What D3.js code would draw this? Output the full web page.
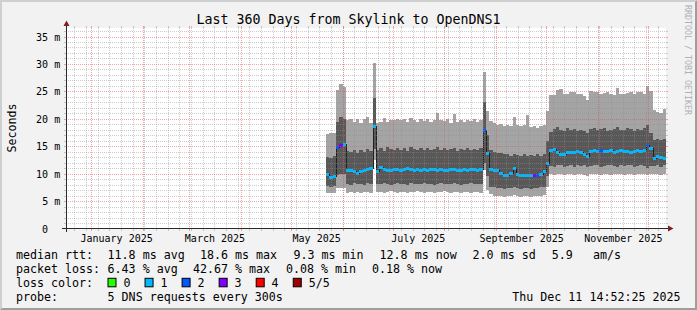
<!DOCTYPE html>
<html>
<head>
<meta charset="utf-8">
<script src="https://cdn.jsdelivr.net/npm/d3@7"></script>
<style>
  body { margin: 0; background: #f2f2f2; }
  svg { display: block; font-family: 'DejaVu Sans Mono', monospace; }
</style>
</head>
<body>
<svg id="chart" width="697" height="310"></svg>
<script>
// time range of the graph
let endTime = new Date(2025, 11, 11, 14, 52, 25);
let startTime = d3.timeDay.offset(endTime, -360);
let firstDay = new Date(2025, 4, 21, 14, 52, 25);
let stepDays = 2;

// ping values in ms, one value per 2 days
let pingMax = [
  17.3, 17.5, 17.4,
  25.2, 26.3, 25.8,
  19.8, 19.9, 19.5, 20.0, 19.2, 20.0, 20.3, 19.3,
  30.1,
  19.2, 19.4, 20.1, 19.5, 19.8, 19.7, 20.0, 19.7, 19.9, 19.5, 20.2, 19.8, 19.4, 19.9, 19.6, 20.0,
  19.5, 19.8, 21.0, 19.7, 19.6, 20.0, 19.3, 20.9, 19.5, 19.7, 19.4, 19.8, 19.6, 19.9, 19.5, 19.8,
  28.6, 21.5,
  19.6, 19.2, 18.8, 19.0, 18.7, 18.9, 18.6, 20.4, 18.8, 18.7, 18.9, 20.7, 18.5, 18.6, 18.4, 18.7, 18.8,
  21.5,
  24.3, 24.4, 25.2, 25.5, 24.6, 24.5, 24.8, 24.9, 24.5, 24.6, 24.2, 23.4, 25.0, 24.9, 24.8,
  24.5, 24.7, 24.9, 24.6, 24.3, 25.6, 24.6, 24.5, 24.7, 24.9, 24.6, 24.8, 24.9, 24.6,
  25.9, 25.0,
  21.6, 21.3, 21.0, 21.8
];
let pingQ4 = [
  13.0, 12.8, 13.2,
  19.5, 20.3, 20.0,
  14.2, 13.9, 14.4, 13.8, 14.3, 14.0, 14.5, 14.2,
  23.8,
  14.4, 14.6, 14.2, 14.8, 14.5, 14.3, 14.7, 14.4, 14.6, 14.2, 14.9, 14.5, 14.3, 14.6, 14.4, 14.7,
  14.3, 14.5, 14.8, 14.4, 14.6, 14.3, 14.5, 14.7, 14.2, 14.5, 14.4, 14.6, 14.3, 14.5, 14.4, 14.6,
  23.0, 17.0,
  14.3, 14.0, 13.7, 13.8, 13.5, 13.6, 13.3, 13.5, 13.4, 13.2, 13.5, 13.3, 13.4, 13.2, 13.5, 13.3, 13.6,
  16.0,
  17.6, 18.2, 18.5, 18.0, 17.8, 18.3, 17.9, 18.1, 17.7, 18.0, 17.8, 17.5, 18.2, 18.4, 17.9,
  18.1, 18.3, 17.8, 18.0, 18.2, 18.5, 18.0, 17.9, 18.3, 18.1, 17.8, 18.2, 18.0, 18.3,
  18.8, 17.5,
  16.2, 16.4, 16.1, 16.3
];
let pingMedian = [
  9.9, 9.3, 9.6,
  14.9, 15.3, 15.4,
  10.7, 10.6, 10.5, 10.2, 10.4, 10.7, 10.9, 11.0,
  18.6,
  10.5, 11.2, 10.9, 10.7, 10.6, 10.9, 10.8, 10.6, 10.9, 11.0, 10.8, 10.7, 10.9, 10.7, 10.8, 10.6,
  10.8, 10.9, 10.7, 10.8, 10.6, 10.7, 10.8, 10.9, 10.7, 10.6, 10.8, 10.7, 10.9, 10.8, 10.7, 10.8,
  17.9, 13.7,
  10.8, 10.7, 10.6, 10.1, 9.8, 9.8, 10.2, 11.0, 9.9, 9.8, 9.7, 9.8, 9.7, 9.8, 9.8, 9.9, 10.4,
  12.0,
  14.4, 14.5, 14.0, 13.5, 13.5, 14.0, 13.9, 14.0, 14.1, 13.9, 13.6, 13.3, 14.2, 14.3, 14.2,
  14.4, 14.1, 14.2, 14.3, 14.0, 14.2, 14.3, 14.1, 14.2, 14.0, 14.1, 14.3, 14.2, 14.4,
  15.2, 14.6,
  12.9, 13.2, 13.0, 12.9
];
let pingQ2 = [
  7.7, 7.6, 7.7,
  9.8, 9.9, 10.0,
  8.2, 8.0, 8.3, 8.1, 8.2, 8.0, 8.3, 8.1,
  14.5,
  8.2, 8.1, 8.3, 8.2, 8.0, 8.2, 8.3, 8.1, 8.2, 8.0, 8.3, 8.2, 8.1, 8.2, 8.3, 8.1,
  8.2, 8.0, 8.2, 8.3, 8.1, 8.2, 8.1, 8.3, 8.2, 8.0, 8.2, 8.1, 8.3, 8.2, 8.1, 8.2,
  12.0, 9.5,
  7.6, 7.5, 7.3, 7.4, 7.2, 7.4, 7.3, 7.5, 7.3, 7.2, 7.4, 7.3, 7.2, 7.4, 7.3, 7.5, 7.6,
  9.5,
  11.4, 11.3, 11.5, 11.6, 11.3, 11.4, 11.5, 11.3, 11.6, 11.4, 11.5, 11.3, 11.4, 11.6, 11.5,
  11.3, 11.4, 11.5, 11.6, 11.4, 11.3, 11.5, 11.4, 11.6, 11.5, 11.3, 11.4, 11.5, 11.4,
  11.0, 11.4,
  11.4, 11.5, 11.3, 11.5
];
let pingMin = [
  6.4, 6.4, 6.4,
  7.3, 7.3, 7.4,
  6.5, 6.6, 6.4, 6.6, 6.5, 6.6, 6.7, 6.5,
  12.5,
  6.6, 6.7, 6.5, 6.6, 6.8, 6.6, 6.5, 6.7, 6.6, 6.5, 6.7, 6.6, 6.8, 6.6, 6.5, 6.7,
  6.6, 6.5, 6.7, 6.6, 6.8, 6.6, 6.5, 6.7, 6.6, 6.5, 6.7, 6.6, 6.5, 6.7, 6.6, 6.5,
  10.7, 7.0,
  6.2, 6.0, 5.9, 6.0, 5.8, 6.0, 5.9, 6.1, 5.9, 5.8, 6.0, 5.9, 5.8, 6.0, 5.9, 6.0, 6.1,
  7.5,
  9.9, 9.8, 10.0, 9.9, 9.7, 9.9, 10.0, 9.8, 9.9, 10.0, 9.8, 9.6, 9.9, 10.0, 9.9,
  9.8, 10.0, 9.9, 9.8, 9.9, 10.0, 9.9, 9.8, 9.9, 10.0, 9.8, 9.9, 10.0, 9.9,
  9.7, 9.9,
  9.9, 10.0, 9.8, 9.9
];
// lost pings per point (0..5)
let lossCount = [
  1, 1, 1, 2, 3, 1, 1, 1, 1, 1, 1, 1, 1, 1, 1, 1, 1, 1, 1, 1,
  1, 1, 1, 1, 1, 1, 1, 1, 1, 1, 1, 1, 1, 1, 1, 1, 1, 1, 1, 1,
  1, 1, 1, 1, 1, 1, 1, 2, 1, 1, 1, 1, 1, 1, 1, 1, 1, 1, 1, 1,
  1, 1, 3, 2, 1, 1, 1, 1, 1, 1, 1, 1, 1, 1, 1, 1, 1, 1, 1, 1,
  1, 1, 2, 1, 1, 1, 1, 1, 1, 1, 1, 1, 1, 1, 1, 1, 2, 1, 1, 1,
  1, 1
];

let yTicks = [0, 5, 10, 15, 20, 25, 30, 35];
let lossLabels = ['0', '1', '2', '3', '4', '5/5'];
let lossColors = ['#26ff00', '#00b8ff', '#0059ff', '#7e00ff', '#ff0000', '#a10000'];
let rttStats = ['11.8 ms avg', '18.6 ms max', '9.3 ms min', '12.8 ms now', '2.0 ms sd'];
let rttAms = ['5.9', 'am/s'];
let lossStats = ['6.43 % avg', '42.67 % max', '0.08 % min', '0.18 % now'];
let titleText = 'Last 360 Days from Skylink to OpenDNS1';
let probeText = '5 DNS requests every 300s';

let svg = d3.select('#chart');

// background + 3d shade
svg.append('rect').attr('width', 697).attr('height', 310).attr('fill', '#f2f2f2');
svg.append('path').attr('d', 'M0,0H697L695,2H2V308L0,310Z').attr('fill', '#cfcfcf');
svg.append('path').attr('d', 'M697,0V310H0L2,308H695V2Z').attr('fill', '#9e9e9e');

let x = d3.scaleTime().domain([startTime, endTime]).range([66, 666]);
let y = d3.scaleLinear().domain([0, 200 / (192 / 35)]).range([228.5, 28.5]);

// canvas
svg.append('rect').attr('x', 66).attr('y', 28).attr('width', 600).attr('height', 200).attr('fill', '#ffffff');

let pts = pingMedian.map(function(m, i) {
  return {
    t: d3.timeDay.offset(firstDay, stepDays * i),
    min: pingMin[i], q2: pingQ2[i], med: m, q4: pingQ4[i], max: pingMax[i],
    loss: lossCount[i]
  };
});
pts.forEach((p, i) => { p.next = i + 1 < pts.length ? pts[i + 1].t : endTime; });
let ptsEnd = pts.concat([Object.assign({}, pts[pts.length - 1], {t: endTime})]);

let px = function(t) { return Math.round(x(t)); };
let py = function(v) { return Math.round(y(v)); };

// smoke: outer pings light, inner pings dark
let g = svg.append('g').attr('shape-rendering', 'crispEdges');
g.append('path').datum(ptsEnd)
  .attr('d', d3.area().curve(d3.curveStepAfter)
    .x(d => px(d.t)).y0(d => py(d.min)).y1(d => py(d.max)))
  .attr('fill', '#a4a4a4');
g.append('path').datum(ptsEnd)
  .attr('d', d3.area().curve(d3.curveStepAfter)
    .x(d => px(d.t)).y0(d => py(d.q2)).y1(d => py(d.q4)))
  .attr('fill', '#585858');

// median: thin dark step line, thick coloured piece per point by loss
let medLine = d3.line().curve(d3.curveStepAfter)
  .x(d => px(d.t)).y(d => py(d.med) + 0.5);
g.append('path').datum(ptsEnd).attr('d', medLine)
  .attr('fill', 'none').attr('stroke', '#202020').attr('stroke-width', 1);

g.selectAll('.med').data(pts).enter().append('line')
  .attr('class', 'med')
  .attr('x1', d => px(d.t)).attr('x2', d => px(d.next))
  .attr('y1', d => py(d.med) + 0.5).attr('y2', d => py(d.med) + 0.5)
  .attr('stroke', d => lossColors[d.loss]).attr('stroke-width', 3);

// grid (drawn over the graph like rrdtool)
let minorCol = 'rgba(143,143,143,0.45)';
let majorCol = 'rgba(222,79,79,0.5)';
let grid = svg.append('g').attr('shape-rendering', 'crispEdges');

let hLine = function(v, col) {
  let yy = py(v) + 0.5;
  grid.append('line').attr('x1', 66).attr('x2', 666).attr('y1', yy).attr('y2', yy)
    .attr('stroke', col).attr('stroke-dasharray', '1,1');
  grid.append('line').attr('x1', 64).attr('x2', 66).attr('y1', yy).attr('y2', yy).attr('stroke', col);
  grid.append('line').attr('x1', 666).attr('x2', 668).attr('y1', yy).attr('y2', yy).attr('stroke', col);
};
let vLine = function(t, col) {
  let xx = Math.floor(x(t)) + 0.5;
  grid.append('line').attr('x1', xx).attr('x2', xx).attr('y1', 28).attr('y2', 228)
    .attr('stroke', col).attr('stroke-dasharray', '1,1');
  grid.append('line').attr('x1', xx).attr('x2', xx).attr('y1', 228).attr('y2', 231).attr('stroke', col);
  grid.append('line').attr('x1', xx).attr('x2', xx).attr('y1', 26).attr('y2', 28).attr('stroke', col);
};

d3.range(1, 37).filter(v => v % 5 !== 0).forEach(v => hLine(v, minorCol));
d3.timeSunday.range(startTime, endTime).forEach(t => vLine(t, minorCol));
yTicks.filter(v => v > 0).forEach(v => hLine(v, majorCol));
let months = d3.timeMonth.range(startTime, endTime);
months.forEach(t => vLine(t, majorCol));

// axes + arrows
svg.append('line').attr('x1', 62).attr('x2', 670).attr('y1', 228.5).attr('y2', 228.5)
  .attr('stroke', '#2a2a2a');
svg.append('line').attr('x1', 66.5).attr('x2', 66.5).attr('y1', 232).attr('y2', 24)
  .attr('stroke', '#2a2a2a');
svg.append('path').attr('d', 'M668,225.5L673.5,228.5L668,231.5Z').attr('fill', '#7f1f1f');
svg.append('path').attr('d', 'M63.5,26L66.5,20.5L69.5,26Z').attr('fill', '#7f1f1f');

// y labels
svg.selectAll('.ylab').data(yTicks).enter().append('text')
  .attr('class', 'ylab')
  .attr('x', d => d === 0 ? 48 : 60.2)
  .attr('y', d => py(d) + 4)
  .attr('text-anchor', 'end')
  .attr('font-size', '10px')
  .text(d => d === 0 ? '0' : d + ' m');

// month labels every second month, centred on the month
let fmtMonth = d3.timeFormat('%B %Y');
svg.selectAll('.xlab').data(months.filter(t => t.getMonth() % 2 === 0)).enter().append('text')
  .attr('class', 'xlab')
  .attr('x', d => x(d3.timeDay.offset(d, 15)))
  .attr('y', 242)
  .attr('text-anchor', 'middle')
  .attr('font-size', '10px')
  .text(d => fmtMonth(d));

// title, y title, watermark
svg.append('text').attr('x', 348.5).attr('y', 24).attr('text-anchor', 'middle')
  .attr('font-size', '13.3px').text(titleText);
svg.append('text').attr('transform', 'translate(15.5,128) rotate(-90)')
  .attr('text-anchor', 'middle').attr('font-size', '11.6px').text('Seconds');
svg.append('text').attr('transform', 'translate(685,5) rotate(90)')
  .attr('font-size', '8.3px').attr('fill', '#b0b0b0').text('RRDTOOL / TOBI OETIKER');

// legend
let lg = svg.append('g').attr('font-size', '11.65px');
let lgText = function(xx, yy, s) {
  lg.append('text').attr('x', xx).attr('y', yy).text(s);
};
lgText(16, 258.7, 'median rtt:');
[107.6, 199.9, 293.5, 379.6, 472.6].forEach((xx, i) => lgText(xx, 258.7, rttStats[i]));
lgText(551.8, 258.7, rttAms[0]);
lgText(593.1, 258.7, rttAms[1]);

lgText(16, 273.4, 'packet loss:');
[107.6, 193, 286, 372].forEach((xx, i) => lgText(xx, 273.4, lossStats[i]));

lgText(16, 287.4, 'loss color:');
lossLabels.forEach(function(l, i) {
  let bx = 108 + i * 37.05;
  lg.append('rect').attr('x', bx).attr('y', 278.3).attr('width', 8).attr('height', 8.5)
    .attr('fill', lossColors[i]).attr('stroke', '#000000').attr('stroke-width', 1);
  lgText(bx + 15.4, 287.4, l);
});

lgText(16, 301.2, 'probe:');
lgText(107.6, 301.2, probeText);
lg.append('text').attr('x', 680.5).attr('y', 301.2).attr('text-anchor', 'end')
  .text(d3.timeFormat('%a %b %d %H:%M:%S %Y')(endTime));
</script>
</body>
</html>
